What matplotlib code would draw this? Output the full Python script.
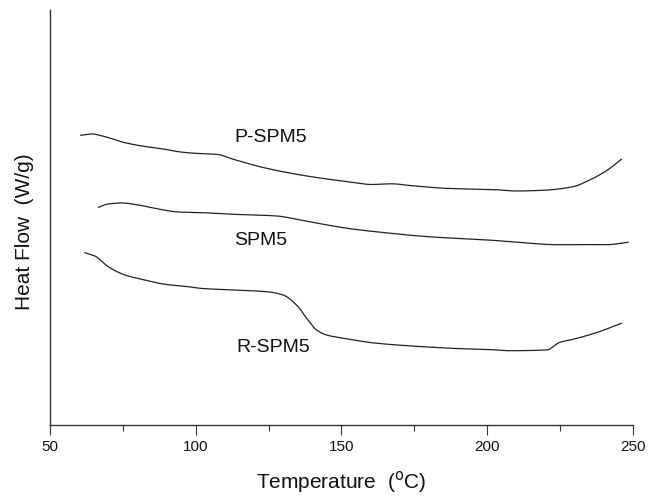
"""
DSC 曲線重繪：P-SPM5 / SPM5 / R-SPM5
"""

import numpy as np
import matplotlib
matplotlib.use('Agg')
import matplotlib.pyplot as plt
from matplotlib.ticker import MultipleLocator

# 曲線資料 (溫度 °C, 熱流 任意單位)
p_spm5_temp = [60.6, 64.3, 68.9, 75.7, 81.5, 88.3, 94.0, 99.7, 107.2, 112.9,
               124.3, 138.1, 152.9, 160.4, 167.2, 174.1, 185.5, 202.7, 210.1,
               219.2, 229.5, 235.2, 241.0, 246.1]
p_spm5_flow = [2.897, 2.910, 2.883, 2.823, 2.790, 2.763, 2.733, 2.717, 2.707, 2.657,
               2.567, 2.490, 2.430, 2.405, 2.412, 2.393, 2.367, 2.353, 2.340,
               2.347, 2.383, 2.450, 2.543, 2.657]

spm5_temp = [66.6, 70.0, 74.6, 80.3, 86.0, 94.0, 102.3, 112.9, 127.8, 135.8,
             143.8, 152.0, 162.6, 179.8, 201.8, 212.4, 223.8, 241.0, 248.4]
spm5_flow = [2.177, 2.210, 2.220, 2.200, 2.167, 2.130, 2.123, 2.107, 2.090, 2.050,
             2.007, 1.967, 1.930, 1.883, 1.847, 1.823, 1.803, 1.803, 1.827]

r_spm5_temp = [62.0, 65.4, 70.0, 75.7, 81.5, 89.5, 97.4, 102.3, 112.9, 124.3,
               130.0, 134.6, 138.1, 141.5, 144.9, 152.0, 160.4, 174.1, 191.2,
               201.8, 207.8, 220.4, 225.0, 229.5, 237.5, 246.1]
r_spm5_flow = [1.723, 1.690, 1.583, 1.500, 1.457, 1.407, 1.383, 1.365, 1.350, 1.333,
               1.300, 1.200, 1.067, 0.950, 0.900, 0.862, 0.823, 0.790, 0.763,
               0.753, 0.743, 0.750, 0.827, 0.857, 0.923, 1.017]

curve_names = ['P-SPM5', 'SPM5', 'R-SPM5']
label_temp = [125.8, 122.4, 126.5]
label_flow = [2.875, 1.840, 0.770]

x_ticks = [50, 100, 150, 200, 250]


def smooth_line(x, y, n=400):
    """以 PCHIP 風格的簡單插值讓折線看起來平滑"""
    x = np.asarray(x, dtype=float)
    y = np.asarray(y, dtype=float)
    xs = np.linspace(x[0], x[-1], n)
    # 分段三次 Hermite，斜率取相鄰差分的調和平均，避免過衝
    h = np.diff(x)
    d = np.diff(y) / h
    m = np.zeros_like(y)
    for i in range(1, len(y) - 1):
        if d[i - 1] * d[i] > 0:
            w1 = 2 * h[i] + h[i - 1]
            w2 = h[i] + 2 * h[i - 1]
            m[i] = (w1 + w2) / (w1 / d[i - 1] + w2 / d[i])
    m[0] = d[0]
    m[-1] = d[-1]
    idx = np.clip(np.searchsorted(x, xs) - 1, 0, len(x) - 2)
    t = (xs - x[idx]) / h[idx]
    h00 = 2 * t**3 - 3 * t**2 + 1
    h10 = t**3 - 2 * t**2 + t
    h01 = -2 * t**3 + 3 * t**2
    h11 = t**3 - t**2
    ys = h00 * y[idx] + h10 * h[idx] * m[idx] + h01 * y[idx + 1] + h11 * h[idx] * m[idx + 1]
    return xs, ys


def main():
    plt.rcParams['font.family'] = ['Liberation Sans', 'DejaVu Sans']

    fig = plt.figure(figsize=(6.49, 4.99), dpi=100)
    ax = fig.add_axes([0.077, 0.1483, 0.898, 0.8317])

    line_color = '#222222'
    for tx, fy in [(p_spm5_temp, p_spm5_flow), (spm5_temp, spm5_flow),
                   (r_spm5_temp, r_spm5_flow)]:
        xs, ys = smooth_line(tx, fy)
        ax.plot(xs, ys, color=line_color, linewidth=0.9)

    for name, tx, fy in zip(curve_names, label_temp, label_flow):
        ax.text(tx, fy, name, fontsize=14, ha='center', va='center', color='#111111')

    ax.set_xlim(50, 250)
    ax.set_ylim(0, 4.15)

    # 只保留左、下軸
    ax.spines['top'].set_visible(False)
    ax.spines['right'].set_visible(False)
    for side in ['left', 'bottom']:
        ax.spines[side].set_color('#333333')
        ax.spines[side].set_linewidth(1.0)

    ax.set_xticks(x_ticks)
    ax.xaxis.set_minor_locator(MultipleLocator(25))
    ax.tick_params(axis='x', which='major', direction='out', length=7, width=0.8,
                   labelsize=11, pad=4, colors='#333333', labelcolor='#111111')
    ax.tick_params(axis='x', which='minor', direction='out', length=4, width=0.8,
                   colors='#333333')
    ax.set_yticks([])

    ax.set_xlabel('Temperature  ($^{\\rm o}$C)', fontsize=15, color='#111111')
    ax.xaxis.set_label_coords(0.499, -0.105)
    ax.set_ylabel('Heat Flow  (W/g)', fontsize=15, color='#111111')
    ax.yaxis.set_label_coords(-0.028, 0.465)

    fig.savefig('out.png', dpi=100)
    plt.close(fig)


if __name__ == "__main__":
    main()
